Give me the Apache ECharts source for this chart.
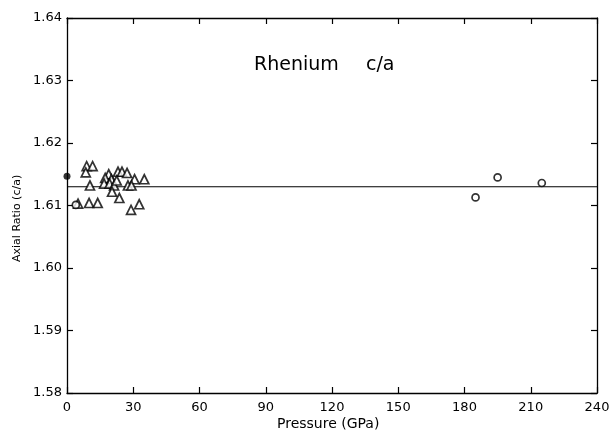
<!DOCTYPE html>
<html>
<head>
<meta charset="utf-8">
<script src="https://cdn.jsdelivr.net/npm/echarts@6/dist/echarts.min.js"></script>
<style>
  html, body { margin: 0; padding: 0; background: #fff; }
  #chart { width: 613px; height: 431px; }
</style>
</head>
<body>
<div id="chart"></div>
<script>
// pressure (GPa), axial ratio c/a
var triP = [8.9, 11.6, 8.5, 10.4, 10.0, 13.9, 18.9, 17.3, 20.1, 16.8, 19.3, 21.3, 23.1, 24.9, 27.2,
            30.6, 27.6, 29.2, 35.0, 20.4, 23.7, 29.0, 32.7, 22.5, 5.0];
var triCA = [1.6163, 1.6163, 1.6153, 1.6132, 1.6104, 1.6104, 1.6150, 1.6144, 1.6142, 1.6135, 1.6135, 1.6132, 1.6154, 1.6154, 1.6152,
             1.6142, 1.6132, 1.6132, 1.6142, 1.6122, 1.6112, 1.6093, 1.6102, 1.6140, 1.6103];
var circP = [4.0, 185, 195, 215];
var circCA = [1.6101, 1.6113, 1.6145, 1.6136];
var dotP = [0];
var dotCA = [1.6147];
var meanP = [0, 240];
var meanCA = [1.613, 1.613];

var xTicks = [0, 30, 60, 90, 120, 150, 180, 210, 240];
var yTicks = ['1.58', '1.59', '1.60', '1.61', '1.62', '1.63', '1.64'];

function pairs(xs, ys) {
  var out = [];
  for (var i = 0; i < xs.length; i++) out.push([xs[i], ys[i]]);
  return out;
}

var chart = echarts.init(document.getElementById('chart'));
var font = '"DejaVu Sans", sans-serif';

var baseX = {
  type: 'value', min: xTicks[0], max: xTicks[xTicks.length - 1], interval: 30,
  axisLine: { show: true, onZero: false, lineStyle: { color: '#000', width: 1.3 } },
  axisTick: { show: true, inside: true, length: 6, lineStyle: { color: '#000', width: 1.2 } },
  splitLine: { show: false }
};
var baseY = {
  type: 'value', min: +yTicks[0], max: +yTicks[yTicks.length - 1], interval: 0.01,
  axisLine: { show: true, onZero: false, lineStyle: { color: '#000', width: 1.3 } },
  axisTick: { show: true, inside: true, length: 6, lineStyle: { color: '#000', width: 1.2 } },
  splitLine: { show: false }
};

var option = {
  backgroundColor: '#fff',
  animation: false,
  grid: { left: 67, right: 16, top: 18, bottom: 38 },
  xAxis: [
    Object.assign({}, baseX, {
      position: 'bottom',
      axisLabel: { color: '#000', fontFamily: font, fontSize: 13, margin: 8 }
    }),
    Object.assign({}, baseX, { position: 'top', axisLabel: { show: false } })
  ],
  yAxis: [
    Object.assign({}, baseY, {
      position: 'left',
      axisLabel: {
        color: '#000', fontFamily: font, fontSize: 13, margin: 5,
        formatter: function (v) { return v.toFixed(2); }
      }
    }),
    Object.assign({}, baseY, { position: 'right', axisLabel: { show: false } })
  ],
  graphic: [
    { type: 'text', left: 254, top: 56, style: { text: 'Rhenium', fill: '#000', font: '19px ' + font } },
    { type: 'text', left: 366, top: 56, style: { text: 'c/a', fill: '#000', font: '19px ' + font } },
    { type: 'text', left: 277, top: 417, style: { text: 'Pressure (GPa)', fill: '#000', font: '14px ' + font } },
    { type: 'text', x: 12, y: 262, rotation: Math.PI / 2, style: { text: 'Axial Ratio (c/a)', fill: '#000', font: '11px ' + font } }
  ],
  series: [
    {
      type: 'line', data: pairs(meanP, meanCA), showSymbol: false, silent: true,
      lineStyle: { color: '#000', width: 1.2 }, z: 2
    },
    {
      type: 'scatter', symbol: 'triangle', symbolSize: 9,
      itemStyle: { color: '#fff', borderColor: '#000', borderWidth: 1.7 },
      data: pairs(triP, triCA), z: 3
    },
    {
      type: 'scatter', symbol: 'circle', symbolSize: 7,
      itemStyle: { color: '#fff', borderColor: '#000', borderWidth: 1.7 },
      data: pairs(circP, circCA), z: 3
    },
    {
      type: 'scatter', symbol: 'circle', symbolSize: 7,
      itemStyle: { color: '#000' },
      data: pairs(dotP, dotCA), z: 4
    }
  ]
};
chart.setOption(option);
</script>
</body>
</html>
